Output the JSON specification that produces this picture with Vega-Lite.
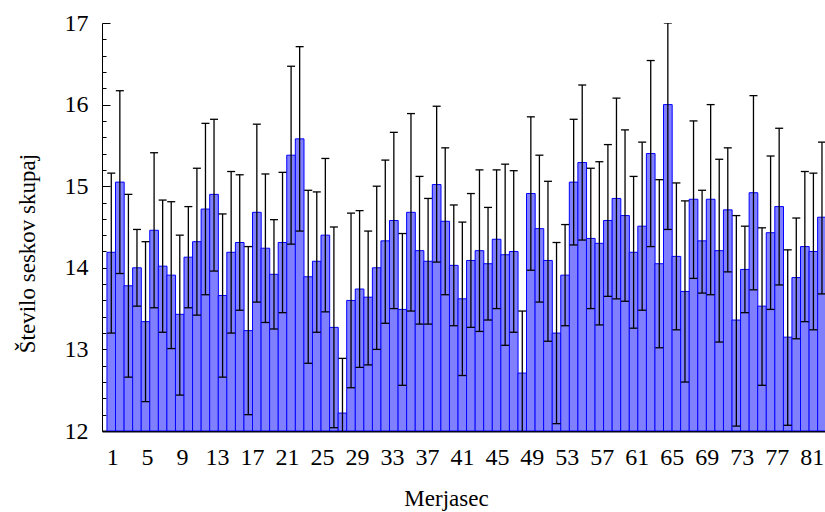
{
  "$schema": "https://vega.github.io/schema/vega-lite/v6.json",
  "width": 723,
  "height": 408,
  "autosize": "none",
  "padding": {"left": 102, "top": 23, "right": 0, "bottom": 81},
  "background": "white",
  "config": {
    "font": "Liberation Serif",
    "view": {"stroke": null},
    "axis": {"labelFont": "Liberation Serif", "titleFont": "Liberation Serif", "labelOverlap": false, "labelBound": false}
  },
  "data": {"values": [
    {"n":1,"mean":14.19,"lo":13.20,"hi":15.16},
    {"n":2,"mean":15.05,"lo":13.93,"hi":16.17},
    {"n":3,"mean":13.78,"lo":12.66,"hi":14.90},
    {"n":4,"mean":14.00,"lo":13.53,"hi":14.47},
    {"n":5,"mean":13.34,"lo":12.36,"hi":14.32},
    {"n":6,"mean":14.46,"lo":13.51,"hi":15.41},
    {"n":7,"mean":14.02,"lo":13.21,"hi":14.83},
    {"n":8,"mean":13.91,"lo":13.01,"hi":14.81},
    {"n":9,"mean":13.43,"lo":12.44,"hi":14.40},
    {"n":10,"mean":14.13,"lo":13.51,"hi":14.75},
    {"n":11,"mean":14.32,"lo":13.42,"hi":15.22},
    {"n":12,"mean":14.72,"lo":13.67,"hi":15.77},
    {"n":13,"mean":14.90,"lo":13.96,"hi":15.82},
    {"n":14,"mean":13.66,"lo":12.66,"hi":14.66},
    {"n":15,"mean":14.19,"lo":13.20,"hi":15.18},
    {"n":16,"mean":14.31,"lo":13.48,"hi":15.14},
    {"n":17,"mean":13.23,"lo":12.20,"hi":14.26},
    {"n":18,"mean":14.68,"lo":13.58,"hi":15.76},
    {"n":19,"mean":14.24,"lo":13.33,"hi":15.15},
    {"n":20,"mean":13.92,"lo":13.25,"hi":14.59},
    {"n":21,"mean":14.31,"lo":13.45,"hi":15.17},
    {"n":22,"mean":15.38,"lo":14.29,"hi":16.47},
    {"n":23,"mean":15.58,"lo":14.45,"hi":16.71},
    {"n":24,"mean":13.89,"lo":12.83,"hi":14.95},
    {"n":25,"mean":14.08,"lo":13.21,"hi":14.93},
    {"n":26,"mean":14.40,"lo":13.46,"hi":15.34},
    {"n":27,"mean":13.27,"lo":12.04,"hi":14.50},
    {"n":28,"mean":12.22,"lo":11.55,"hi":12.89},
    {"n":29,"mean":13.60,"lo":12.53,"hi":14.67},
    {"n":30,"mean":13.74,"lo":12.78,"hi":14.70},
    {"n":31,"mean":13.64,"lo":12.81,"hi":14.45},
    {"n":32,"mean":14.00,"lo":13.00,"hi":15.00},
    {"n":33,"mean":14.33,"lo":13.32,"hi":15.32},
    {"n":34,"mean":14.58,"lo":13.50,"hi":15.66},
    {"n":35,"mean":13.49,"lo":12.56,"hi":14.42},
    {"n":36,"mean":14.68,"lo":13.47,"hi":15.89},
    {"n":37,"mean":14.21,"lo":13.31,"hi":15.12},
    {"n":38,"mean":14.08,"lo":13.31,"hi":14.85},
    {"n":39,"mean":15.02,"lo":14.07,"hi":15.98},
    {"n":40,"mean":14.57,"lo":13.67,"hi":15.47},
    {"n":41,"mean":14.03,"lo":13.29,"hi":14.77},
    {"n":42,"mean":13.62,"lo":12.68,"hi":14.56},
    {"n":43,"mean":14.09,"lo":13.27,"hi":14.91},
    {"n":44,"mean":14.21,"lo":13.22,"hi":15.20},
    {"n":45,"mean":14.05,"lo":13.36,"hi":14.74},
    {"n":46,"mean":14.35,"lo":13.50,"hi":15.20},
    {"n":47,"mean":14.16,"lo":13.05,"hi":15.27},
    {"n":48,"mean":14.20,"lo":13.21,"hi":15.19},
    {"n":49,"mean":12.71,"lo":11.95,"hi":13.47},
    {"n":50,"mean":14.91,"lo":13.97,"hi":15.85},
    {"n":51,"mean":14.48,"lo":13.58,"hi":15.38},
    {"n":52,"mean":14.09,"lo":13.10,"hi":15.06},
    {"n":53,"mean":13.20,"lo":12.09,"hi":14.31},
    {"n":54,"mean":13.91,"lo":13.29,"hi":14.53},
    {"n":55,"mean":15.05,"lo":14.28,"hi":15.82},
    {"n":56,"mean":15.29,"lo":14.34,"hi":16.24},
    {"n":57,"mean":14.36,"lo":13.50,"hi":15.22},
    {"n":58,"mean":14.30,"lo":13.30,"hi":15.30},
    {"n":59,"mean":14.58,"lo":13.65,"hi":15.51},
    {"n":60,"mean":14.85,"lo":13.62,"hi":16.08},
    {"n":61,"mean":14.64,"lo":13.59,"hi":15.69},
    {"n":62,"mean":14.19,"lo":13.26,"hi":15.12},
    {"n":63,"mean":14.51,"lo":13.48,"hi":15.54},
    {"n":64,"mean":15.40,"lo":14.26,"hi":16.54},
    {"n":65,"mean":14.05,"lo":13.02,"hi":15.08},
    {"n":66,"mean":16.00,"lo":14.47,"hi":17.00},
    {"n":67,"mean":14.14,"lo":13.24,"hi":15.04},
    {"n":68,"mean":13.71,"lo":12.60,"hi":14.82},
    {"n":69,"mean":14.84,"lo":13.87,"hi":15.80},
    {"n":70,"mean":14.33,"lo":13.69,"hi":14.95},
    {"n":71,"mean":14.84,"lo":13.67,"hi":16.00},
    {"n":72,"mean":14.21,"lo":13.09,"hi":15.33},
    {"n":73,"mean":14.71,"lo":13.95,"hi":15.47},
    {"n":74,"mean":13.36,"lo":12.06,"hi":14.64},
    {"n":75,"mean":13.98,"lo":13.45,"hi":14.51},
    {"n":76,"mean":14.92,"lo":13.73,"hi":16.11},
    {"n":77,"mean":13.53,"lo":12.56,"hi":14.49},
    {"n":78,"mean":14.43,"lo":13.49,"hi":15.37},
    {"n":79,"mean":14.75,"lo":13.79,"hi":15.71},
    {"n":80,"mean":13.15,"lo":12.07,"hi":14.22},
    {"n":81,"mean":13.88,"lo":13.13,"hi":14.61},
    {"n":82,"mean":14.26,"lo":13.34,"hi":15.18},
    {"n":83,"mean":14.20,"lo":13.24,"hi":15.16},
    {"n":84,"mean":14.62,"lo":13.68,"hi":15.54}
  ]},
  "encoding": {
    "x": {
      "field": "n", "type": "quantitative",
      "scale": {"domain": [0.5, 83.77], "nice": false, "zero": false},
      "axis": {
        "title": "Merjasec",
        "values": [1.1,5.185,9.27,13.355,17.44,21.525,25.61,29.695,33.78,37.865,41.95,46.035,50.12,54.205,58.29,62.375,66.46,70.545,74.63,78.715,82.8],
        "labelExpr": "format(round((datum.value - 1.1) / 4.085) * 4 + 1, 'd')",
        "grid": false, "ticks": false, "labelPadding": 14, "labelFontSize": 24, "labelColor": "black",
        "labelFont": "Liberation Serif", "titleFont": "Liberation Serif",
        "labelOverlap": false, "labelFlush": false,
        "titleFontSize": 23, "titleFontWeight": "normal", "titleColor": "black",
        "titleX": 344, "titleY": 74, "titleBaseline": "alphabetic", "titleAlign": "center", "titleAnchor": null,
        "domainColor": "#000022", "domainWidth": 2
      }
    }
  },
  "layer": [
    {
      "mark": {"type": "bar", "width": 8.68, "fill": "#8080ff", "stroke": "#0000ff", "strokeWidth": 1, "clip": true},
      "encoding": {
        "y": {
          "field": "mean", "type": "quantitative",
          "scale": {"domain": [12, 17], "nice": false, "zero": false},
          "axis": {
            "orient": "left",
            "title": "Število seskov skupaj",
            "values": [12,13,14,15,16,17],
            "format": "d",
            "tickSize": -8, "tickColor": "black", "tickWidth": 1,
            "grid": false, "labelPadding": 22, "labelFontSize": 24, "labelColor": "black",
            "labelFont": "Liberation Serif", "titleFont": "Liberation Serif",
            "titleFontSize": 23, "titleFontWeight": "normal", "titleColor": "black",
            "titleX": -68, "titleY": 230, "titleBaseline": "alphabetic", "titleAlign": "center", "titleAngle": -90, "titleAnchor": null,
            "domainColor": "black", "domainWidth": 1
          }
        },
        "y2": {"datum": 12}
      }
    },
    {
      "mark": {"type": "rule", "color": "black", "strokeWidth": 1.3, "clip": true},
      "encoding": {
        "y": {
          "field": "lo", "type": "quantitative",
          "axis": {
            "orient": "left", "title": null, "labels": false, "domain": false, "grid": false,
            "values": [12.2,12.4,12.6,12.8,13.2,13.4,13.6,13.8,14.2,14.4,14.6,14.8,15.2,15.4,15.6,15.8,16.2,16.4,16.6,16.8],
            "tickSize": -4, "tickColor": "black", "tickWidth": 1
          }
        },
        "y2": {"field": "hi"}
      }
    },
    {
      "mark": {"type": "tick", "orient": "horizontal", "size": 8, "thickness": 1.3, "color": "black", "opacity": 1, "clip": true},
      "encoding": {"y": {"field": "lo", "type": "quantitative", "axis": null}}
    },
    {
      "mark": {"type": "tick", "orient": "horizontal", "size": 8, "thickness": 1.3, "color": "black", "opacity": 1, "clip": true},
      "encoding": {"y": {"field": "hi", "type": "quantitative", "axis": null}}
    }
  ],
  "resolve": {"axis": {"y": "independent"}}
}
